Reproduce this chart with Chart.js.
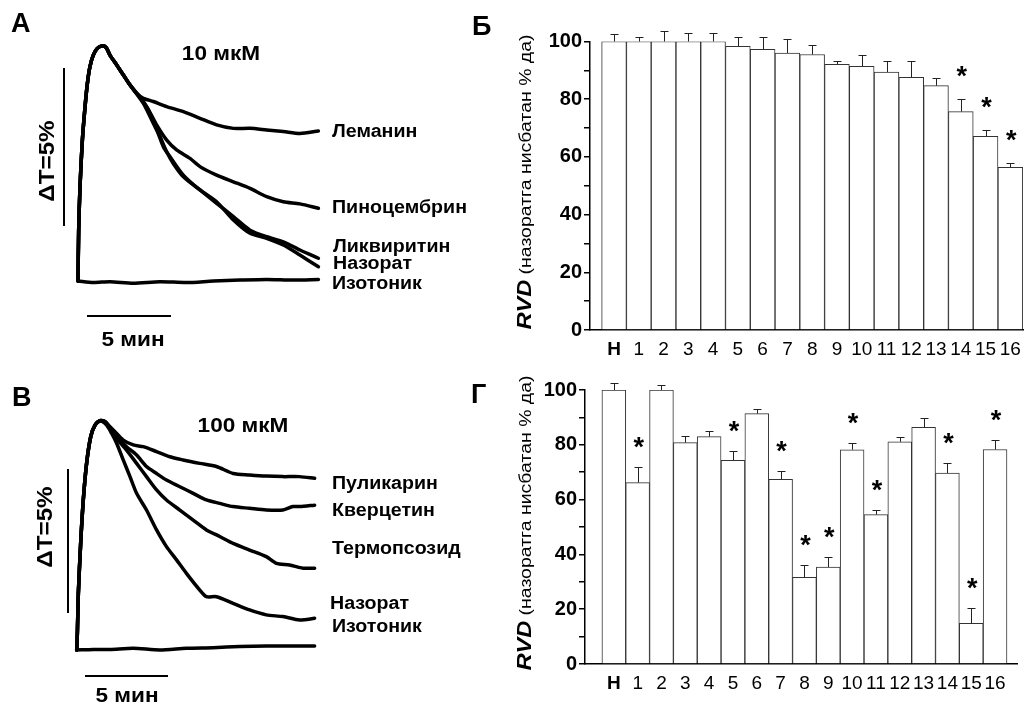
<!DOCTYPE html>
<html>
<head>
<meta charset="utf-8">
<script src="https://cdn.jsdelivr.net/npm/chart.js@4.4.0/dist/chart.umd.min.js"></script>
<style>
body { margin: 0; background: #fff; width: 1024px; height: 704px; position: relative; overflow: hidden; font-family: "Liberation Sans", Arial, sans-serif; }
canvas { position: absolute; }
.t { position: absolute; font-weight: bold; color: #000; white-space: nowrap; line-height: 1; }
.c { transform: translate(-50%, -50%) scaleX(1.13); }
.l { transform: translateY(-50%) scaleX(1.09); transform-origin: left center; font-size: 18px; }
.rot { transform: translate(-50%, -50%) rotate(-90deg) scaleX(1.1); }
.let { font-size: 27px; }
.bar { position: absolute; background: #000; }
.ttl { position: absolute; white-space: nowrap; transform: translate(-50%, -50%) rotate(-90deg) scaleX(1.18); line-height: 1; color: #000; }
.ttl b { font-size: 20px; font-style: italic; }
.ttl span { font-size: 16.5px; }
</style>
</head>
<body>
<canvas id="traceA" width="480" height="350" style="left:0;top:0"></canvas>
<canvas id="traceB" width="480" height="352" style="left:0;top:352px"></canvas>
<canvas id="barsB" width="504" height="340" style="left:520px;top:20px"></canvas>
<canvas id="barsG" width="504" height="334" style="left:520px;top:370px"></canvas>

<div class="t let" style="left:11px;top:10px">А</div>
<div class="t c" style="left:221px;top:53px;font-size:20px">10 мкМ</div>
<div class="t rot" style="left:47px;top:161px;font-size:22px">ΔT=5%</div>
<div class="bar" style="left:63px;top:68px;width:2px;height:158px"></div>
<div class="bar" style="left:87px;top:315px;width:84px;height:2px"></div>
<div class="t c" style="left:133px;top:339px;font-size:20px">5 мин</div>
<div class="t l" style="left:332px;top:131px">Леманин</div>
<div class="t l" style="left:332px;top:207px">Пиноцембрин</div>
<div class="t l" style="left:333px;top:246px">Ликвиритин</div>
<div class="t l" style="left:333px;top:263px">Назорат</div>
<div class="t l" style="left:332px;top:283px">Изотоник</div>

<div class="t let" style="left:12px;top:384px">В</div>
<div class="t c" style="left:243px;top:425px;font-size:20px">100 мкМ</div>
<div class="t rot" style="left:45px;top:527px;font-size:22px">ΔT=5%</div>
<div class="bar" style="left:67px;top:469px;width:2px;height:144px"></div>
<div class="bar" style="left:85px;top:675px;width:83px;height:2px"></div>
<div class="t c" style="left:127px;top:695px;font-size:20px">5 мин</div>
<div class="t l" style="left:332px;top:483px">Пуликарин</div>
<div class="t l" style="left:332px;top:510px">Кверцетин</div>
<div class="t l" style="left:332px;top:548px">Термопсозид</div>
<div class="t l" style="left:330px;top:603px">Назорат</div>
<div class="t l" style="left:332px;top:626px">Изотоник</div>

<div class="t let" style="left:472px;top:13px">Б</div>
<div class="ttl" style="left:524px;top:182px"><b>RVD</b> <span>(назоратга нисбатан % да)</span></div>
<div class="t let" style="left:471px;top:381px">Г</div>
<div class="ttl" style="left:524px;top:523px"><b>RVD</b> <span>(назоратга нисбатан % да)</span></div>

<script>
// traces, 10 мкМ: [time, мин ; ΔT, %]
var riseA = [[0, 0], [0.04, 1.61], [0.12, 2.99], [0.26, 4.46], [0.42, 5.52], [0.56, 6.26], [0.71, 6.78], [0.91, 7.15], [1.15, 7.36], [1.41, 7.44], [1.67, 7.39], [1.90, 7.15], [2.30, 6.84], [2.70, 6.52], [3.10, 6.20], [3.49, 5.94]];
var lemaninA = [[3.89, 5.78], [4.48, 5.68], [5.28, 5.52], [6.27, 5.36], [7.26, 5.15], [8.25, 4.94], [9.25, 4.83], [10.24, 4.83], [11.23, 4.78], [12.22, 4.73], [13.21, 4.67], [14.31, 4.75]];
var pinocembrinA = [[4.09, 5.52], [4.68, 4.94], [5.28, 4.46], [5.87, 4.15], [6.67, 3.88], [7.26, 3.62], [8.25, 3.35], [9.25, 3.14], [10.24, 2.93], [11.23, 2.67], [12.22, 2.51], [13.21, 2.44], [14.31, 2.30]];
var liquiritinA = [[3.89, 5.62], [4.48, 4.99], [4.88, 4.57], [5.28, 4.09], [5.67, 3.72], [6.27, 3.30], [7.26, 2.88], [8.25, 2.46], [9.25, 2.04], [10.24, 1.61], [11.23, 1.40], [12.22, 1.24], [13.21, 0.98], [14.31, 0.72]];
var controlA = [[3.89, 5.68], [4.48, 5.09], [5.08, 4.25], [5.48, 3.93], [6.27, 3.35], [7.26, 2.88], [8.25, 2.51], [9.25, 1.93], [10.24, 1.51], [11.23, 1.35], [12.22, 1.14], [13.21, 0.82], [14.31, 0.45]];
var isotonicA = [[0, 0], [0.91, -0.05], [1.90, -0.02], [3.29, -0.07], [4.88, -0.02], [6.47, -0.05], [8.06, 0], [9.64, 0.03], [11.23, 0.05], [12.82, 0.03], [14.31, 0.05]];

// traces, 100 мкМ
var riseB = [[0, 0], [0.04, 0.58], [0.10, 1.97], [0.24, 3.70], [0.40, 5.21], [0.60, 6.48], [0.85, 7.41], [1.11, 7.81], [1.41, 7.96], [1.71, 7.93]];
var pulicarinB = [[2.02, 7.75], [2.32, 7.58], [2.82, 7.29], [3.43, 7.12], [4.03, 7.06], [4.84, 6.89], [5.65, 6.71], [6.45, 6.60], [7.46, 6.48], [8.47, 6.37], [9.48, 6.13], [10.48, 6.08], [11.49, 6.04], [12.50, 6.02], [13.51, 6.02], [14.42, 5.96]];
var quercetinB = [[2.02, 7.70], [2.32, 7.47], [3.02, 7.06], [3.63, 6.77], [4.23, 6.37], [4.84, 6.13], [5.44, 5.90], [6.25, 5.67], [7.06, 5.44], [7.86, 5.21], [8.67, 5.09], [9.48, 4.98], [10.48, 4.92], [11.49, 4.86], [12.50, 4.86], [13.10, 4.98], [13.51, 4.98], [14.42, 5.03]];
var thermopsosideB = [[2.02, 7.70], [2.32, 7.41], [3.02, 6.94], [3.63, 6.48], [4.23, 6.02], [4.84, 5.56], [5.44, 5.21], [6.25, 4.86], [7.06, 4.51], [7.86, 4.17], [8.67, 3.94], [9.48, 3.70], [10.48, 3.47], [11.49, 3.24], [12.10, 3.01], [12.90, 2.95], [13.71, 2.84], [14.42, 2.84]];
var controlB = [[1.81, 7.81], [2.12, 7.52], [2.42, 7.18], [2.82, 6.60], [3.23, 6.02], [3.63, 5.44], [4.23, 4.86], [4.84, 4.17], [5.44, 3.59], [6.05, 3.13], [6.65, 2.66], [7.46, 2.08], [7.86, 1.85], [8.47, 1.85], [9.48, 1.62], [10.48, 1.39], [11.49, 1.22], [12.50, 1.16], [13.51, 1.04], [14.42, 1.10]];
var isotonicB = [[0, 0], [1.01, 0.02], [2.02, 0.02], [3.43, 0.06], [5.04, 0], [6.65, 0.06], [8.27, 0.08], [9.88, 0.12], [11.49, 0.14], [13.10, 0.14], [14.42, 0.14]];

// bars
var groups = ['Н', '1', '2', '3', '4', '5', '6', '7', '8', '9', '10', '11', '12', '13', '14', '15', '16'];
var rvd10 = [100, 100, 100, 100, 100, 98.3, 97.3, 96.0, 95.5, 92.1, 91.4, 89.4, 87.6, 84.7, 75.7, 67.1, 56.4];
var sem10 = [2.7, 1.7, 3.8, 2.9, 3.1, 3.3, 4.4, 4.7, 3.2, 1.3, 3.9, 3.9, 5.6, 2.8, 4.2, 2.1, 1.4];
var sig10 = [0, 0, 0, 0, 0, 0, 0, 0, 0, 0, 0, 0, 0, 0, 1, 1, 1];
var rvd100 = [100, 66.2, 100, 80.8, 83.0, 74.3, 91.4, 67.4, 31.6, 35.4, 78.2, 54.5, 81.1, 86.4, 69.7, 14.8, 78.3];
var sem100 = [2.4, 5.6, 2.0, 2.3, 1.9, 3.4, 1.5, 3.0, 4.4, 3.5, 2.5, 1.8, 1.9, 3.3, 3.7, 5.5, 3.6];
var sig100 = [0, 1, 0, 0, 0, 1, 0, 1, 1, 1, 1, 1, 0, 0, 1, 1, 1];

var FONT = '"Liberation Sans", Arial, sans-serif';

function pts(arr) {
    return arr.map(function (p) { return { x: p[0], y: p[1] }; });
}

function traceChart(id, sets, pad, yMax) {
    return new Chart(document.getElementById(id), {
        type: 'line',
        data: {
            datasets: sets.map(function (s) {
                return { data: pts(s), borderColor: '#000', borderWidth: 3.5, pointRadius: 0, tension: 0.25, fill: false, clip: false };
            })
        },
        options: {
            responsive: false,
            animation: false,
            layout: { padding: pad },
            plugins: { legend: { display: false }, tooltip: { enabled: false } },
            elements: { line: { borderCapStyle: 'round', borderJoinStyle: 'round' } },
            scales: {
                x: { type: 'linear', min: 0, max: 15, display: false },
                y: { type: 'linear', min: -1, max: yMax, display: false }
            }
        }
    });
}

traceChart('traceA', [
    isotonicA,
    riseA.concat(lemaninA),
    riseA.concat(pinocembrinA),
    riseA.slice(0, 15).concat(liquiritinA),
    riseA.slice(0, 15).concat(controlA)
], { left: 78, right: 150, top: 28.2, bottom: 37.4 }, 8);

traceChart('traceB', [
    isotonicB,
    riseB.concat(pulicarinB),
    riseB.concat(quercetinB),
    riseB.concat(thermopsosideB),
    riseB.slice(0, 9).concat(controlB)
], { left: 76.7, right: 155.8, top: 38.8, bottom: 25.2 }, 9);

var errorBars = {
    id: 'errorBars',
    afterDatasetsDraw: function (chart) {
        var ctx = chart.ctx;
        var y = chart.scales.y;
        var ds = chart.data.datasets[0];
        var meta = chart.getDatasetMeta(0);
        ctx.save();
        ctx.strokeStyle = '#222';
        ctx.lineWidth = 1;
        ctx.fillStyle = '#000';
        ctx.font = 'bold 27px ' + FONT;
        ctx.textAlign = 'center';
        ctx.textBaseline = 'alphabetic';
        meta.data.forEach(function (bar, i) {
            var top = Math.round(y.getPixelForValue(ds.values[i] + ds.errs[i])) + 0.5;
            var x = Math.round(bar.x) + 0.5;
            ctx.beginPath();
            ctx.moveTo(x, bar.y);
            ctx.lineTo(x, top);
            ctx.moveTo(x - 4, top);
            ctx.lineTo(x + 4, top);
            ctx.stroke();
            if (ds.sig[i]) ctx.fillText('*', bar.x + 1, top - ds.starGap);
        });
        ctx.restore();
    }
};

function barChart(id, values, errs, sig, xMin, xMax, yW, xH, pad, starGap) {
    return new Chart(document.getElementById(id), {
        type: 'bar',
        data: {
            datasets: [{
                data: values.map(function (v, i) { return { x: i, y: v }; }),
                values: values,
                errs: errs,
                sig: sig,
                starGap: starGap,
                backgroundColor: '#fff',
                borderColor: '#333',
                borderWidth: 1,
                barPercentage: 1,
                categoryPercentage: 1
            }]
        },
        options: {
            responsive: false,
            animation: false,
            layout: { padding: pad },
            plugins: { legend: { display: false }, tooltip: { enabled: false } },
            scales: {
                x: {
                    type: 'linear',
                    min: xMin,
                    max: xMax,
                    offset: false,
                    grid: { display: false },
                    border: { display: true, color: '#000', width: 1.5 },
                    afterBuildTicks: function (s) {
                        s.ticks = groups.map(function (g, i) { return { value: i }; });
                    },
                    afterFit: function (s) { s.height = xH; },
                    ticks: {
                        autoSkip: false,
                        maxRotation: 0,
                        padding: 0,
                        color: '#000',
                        font: function (c) {
                            return { family: FONT, size: 19, weight: c.index === 0 ? 'bold' : 'normal' };
                        },
                        callback: function (v) { return groups[v]; }
                    }
                },
                y: {
                    min: 0,
                    max: 100,
                    grid: { drawOnChartArea: false, drawTicks: true, tickLength: 6, color: '#000', lineWidth: 1.5 },
                    border: { display: true, color: '#000', width: 1.5 },
                    afterFit: function (s) { s.width = yW; },
                    ticks: {
                        stepSize: 10,
                        autoSkip: false,
                        padding: 2,
                        color: '#000',
                        font: { family: FONT, size: 20, weight: 'bold' },
                        callback: function (v) { return v % 20 === 0 ? v : ''; }
                    }
                }
            }
        },
        plugins: [errorBars]
    });
}

barChart('barsB', rvd10, sem10, sig10, -0.97, 16.51, 70, 30, { top: 21.5, right: 1, left: 0, bottom: 0 }, 15);
barChart('barsG', rvd100, sem100, sig100, -1.21, 16.92, 65, 40, { top: 20, right: 7, left: 0, bottom: 0 }, 12);
</script>
</body>
</html>
